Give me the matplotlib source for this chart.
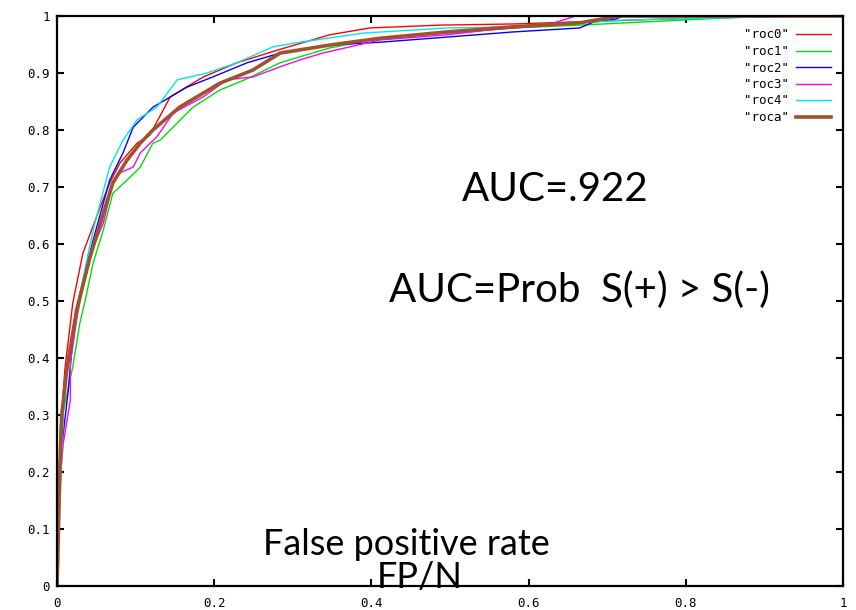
import matplotlib
matplotlib.use("Agg")
import matplotlib.pyplot as plt

# ROC curves (false positive rate, true positive rate)
roc0_fpr = [0, 0.002, 0.006, 0.010, 0.014, 0.019, 0.020, 0.033, 0.055, 0.067, 0.080, 0.102, 0.118, 0.144, 0.186, 0.229, 0.280, 0.347, 0.398, 0.487, 0.580, 0.780, 0.950, 1.0]
roc0_tpr = [0, 0.150, 0.300, 0.380, 0.426, 0.484, 0.496, 0.584, 0.665, 0.707, 0.742, 0.777, 0.791, 0.858, 0.893, 0.918, 0.940, 0.967, 0.979, 0.984, 0.986, 0.995, 1.0, 1.0]

roc1_fpr = [0, 0.002, 0.002, 0.004, 0.007, 0.020, 0.029, 0.036, 0.046, 0.059, 0.071, 0.089, 0.106, 0.122, 0.131, 0.173, 0.207, 0.242, 0.284, 0.347, 0.411, 0.496, 0.580, 0.665, 0.900, 1.0]
roc1_tpr = [0, 0.040, 0.140, 0.280, 0.300, 0.384, 0.461, 0.502, 0.567, 0.625, 0.689, 0.712, 0.735, 0.777, 0.782, 0.840, 0.870, 0.890, 0.918, 0.944, 0.961, 0.970, 0.979, 0.984, 1.0, 1.0]

roc2_fpr = [0, 0.002, 0.008, 0.014, 0.020, 0.025, 0.046, 0.067, 0.084, 0.097, 0.122, 0.165, 0.198, 0.242, 0.284, 0.347, 0.411, 0.496, 0.580, 0.665, 0.682, 0.712, 0.720, 1.0]
roc2_tpr = [0, 0.186, 0.268, 0.339, 0.432, 0.489, 0.607, 0.712, 0.760, 0.805, 0.840, 0.875, 0.893, 0.918, 0.935, 0.949, 0.954, 0.963, 0.972, 0.979, 0.989, 0.995, 1.0, 1.0]

roc3_fpr = [0, 0.002, 0.008, 0.017, 0.017, 0.025, 0.038, 0.059, 0.071, 0.080, 0.097, 0.106, 0.127, 0.148, 0.186, 0.216, 0.249, 0.284, 0.309, 0.338, 0.411, 0.496, 0.547, 0.623, 0.644, 0.660, 1.0]
roc3_tpr = [0, 0.150, 0.251, 0.326, 0.391, 0.467, 0.567, 0.637, 0.707, 0.725, 0.735, 0.760, 0.788, 0.830, 0.858, 0.888, 0.893, 0.911, 0.923, 0.935, 0.958, 0.967, 0.975, 0.984, 0.993, 1.0, 1.0]

roc4_fpr = [0, 0.004, 0.010, 0.023, 0.046, 0.067, 0.084, 0.102, 0.127, 0.153, 0.191, 0.229, 0.275, 0.309, 0.389, 0.496, 0.580, 0.725, 0.950, 1.0]
roc4_tpr = [0, 0.163, 0.361, 0.472, 0.625, 0.735, 0.782, 0.818, 0.840, 0.888, 0.900, 0.918, 0.946, 0.954, 0.970, 0.979, 0.981, 0.993, 1.0, 1.0]

roca_fpr = [0, 0.004, 0.006, 0.013, 0.025, 0.042, 0.059, 0.071, 0.089, 0.106, 0.122, 0.156, 0.207, 0.249, 0.284, 0.347, 0.411, 0.496, 0.580, 0.665, 0.716, 1.0]
roca_tpr = [0, 0.220, 0.300, 0.385, 0.484, 0.577, 0.654, 0.707, 0.747, 0.777, 0.800, 0.840, 0.882, 0.905, 0.935, 0.949, 0.961, 0.972, 0.981, 0.988, 1.0, 1.0]

labels = ['"roc0"', '"roc1"', '"roc2"', '"roc3"', '"roc4"', '"roca"']
colors = ["#ff0000", "#00e000", "#0000ff", "#ff00ff", "#00e8e8", "#a0522d"]
widths = [1.0, 1.0, 1.0, 1.0, 1.0, 2.6]

xticks = [0, 0.2, 0.4, 0.6, 0.8, 1]
xticklabels = ["0", "0.2", "0.4", "0.6", "0.8", "1"]
yticks = [0, 0.1, 0.2, 0.3, 0.4, 0.5, 0.6, 0.7, 0.8, 0.9, 1]
yticklabels = ["0", "0.1", "0.2", "0.3", "0.4", "0.5", "0.6", "0.7", "0.8", "0.9", "1"]

curves = [(roc0_fpr, roc0_tpr), (roc1_fpr, roc1_tpr), (roc2_fpr, roc2_tpr),
          (roc3_fpr, roc3_tpr), (roc4_fpr, roc4_tpr), (roca_fpr, roca_tpr)]

fig = plt.figure(figsize=(8.56, 6.10), dpi=100)
ax = fig.add_axes([57/856, 24/610, 786/856, 570/610])

for (fx, ty), lab, c, w in zip(curves, labels, colors, widths):
    ax.plot(fx, ty, color=c, lw=w, label=lab)

ax.set_xlim(0, 1)
ax.set_ylim(0, 1)
ax.set_xticks(xticks)
ax.set_xticklabels(xticklabels)
ax.set_yticks(yticks)
ax.set_yticklabels(yticklabels)
ax.tick_params(direction="in", length=5, width=1.5, top=True, right=True,
               labelsize=9, colors="black")
ax.tick_params(axis="x", pad=8)
ax.tick_params(axis="y", pad=5)
for lab in ax.get_xticklabels() + ax.get_yticklabels():
    lab.set_family("DejaVu Sans Mono")
for s in ax.spines.values():
    s.set_linewidth(1.6)

leg = ax.legend(loc="upper right", frameon=False, markerfirst=False,
                handlelength=2.8, handletextpad=0.5, labelspacing=0.28,
                prop={"family": "DejaVu Sans Mono", "size": 9},
                borderaxespad=0.6)

tfont = dict(family="Lato", color="black")
ax.text(0.634, 0.695, "AUC=.922", fontsize=29, ha="center", va="center", **tfont)
ax.text(0.665, 0.519, "AUC=Prob  S(+) > S(-)", fontsize=29, ha="center", va="center", **tfont)
ax.text(0.445, 0.072, "False positive rate", fontsize=26, ha="center", va="center", **tfont)
ax.text(0.462, 0.015, "FP/N", fontsize=26, ha="center", va="center", **tfont)

fig.savefig("out.png", dpi=100)
